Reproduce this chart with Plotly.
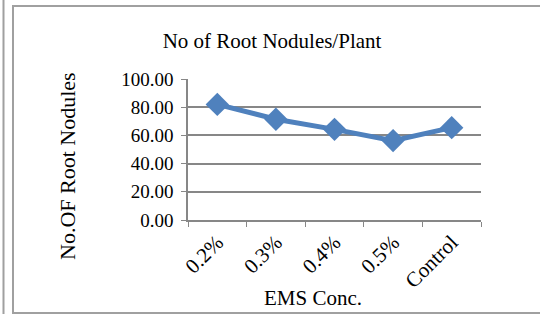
import plotly.graph_objects as go

categories = ["0.2%", "0.3%", "0.4%", "0.5%", "Control"]
nodules = [82.0, 71.5, 64.3, 56.3, 65.5]
y_ticks = [0, 20, 40, 60, 80, 100]

W, H = 540, 314
L, R, T, B = 188, 481, 79, 220  # plot area pixels
pw, ph = R - L, B - T

def px(x):
    return (x - L) / pw

def py(y):
    return (B - y) / ph

font = "Liberation Serif, Times New Roman, serif"
grey = "#878787"

fig = go.Figure()
fig.add_trace(go.Scatter(
    x=categories, y=nodules, mode="lines+markers",
    line=dict(color="#4f81bd", width=5),
    marker=dict(symbol="diamond", size=18, color="#4f81bd"),
    showlegend=False,
))

fig.update_layout(
    width=W, height=H,
    margin=dict(l=L, r=W - R, t=T, b=H - B),
    paper_bgcolor="white", plot_bgcolor="white",
    font=dict(family=font, color="black", size=19),
    title=dict(text="No of Root Nodules/Plant", x=(165 + 379) / 2 / W, xanchor="center",
               y=1 - 41 / H, yanchor="middle", font=dict(size=21, family=font)),
    xaxis=dict(
        type="category", tickangle=-45, tickson="boundaries",
        ticks="outside", ticklen=5, tickcolor=grey,
        showline=True, linecolor=grey, linewidth=1.5,
        showgrid=False, range=[-0.5, 4.5],
        tickfont=dict(size=21, family=font),
    ),
    yaxis=dict(
        range=[0, 100], tickvals=y_ticks, ticktext=[f"{v:.2f}" for v in y_ticks],
        ticks="outside", ticklen=5, tickcolor=grey, ticklabelstandoff=4,
        showline=True, linecolor=grey, linewidth=1.5,
        showgrid=True, gridcolor=grey, gridwidth=1.5, zeroline=False,
        tickfont=dict(size=19, family=font),
    ),
    annotations=[
        dict(text="EMS Conc.", xref="paper", yref="paper", x=px(313), y=py(298),
             xanchor="center", yanchor="middle", showarrow=False,
             font=dict(size=21, family=font)),
        dict(text="No.OF Root Nodules", xref="paper", yref="paper", x=px(67), y=py(166),
             xanchor="center", yanchor="middle", showarrow=False, textangle=-90,
             font=dict(size=22, family=font)),
    ],
    shapes=[
        dict(type="rect", xref="paper", yref="paper", x0=px(13), x1=px(545), y0=py(313), y1=py(6),
             line=dict(color="#a0a0a0", width=2), fillcolor="rgba(0,0,0,0)", layer="below"),
        dict(type="line", xref="paper", yref="paper", x0=px(3.5), x1=px(3.5), y0=py(320), y1=py(-5),
             line=dict(color="#a0a0a0", width=2)),
    ],
)

fig.write_html("out.html", config={"displayModeBar": False},
               post_script="document.body.style.margin='0';")
